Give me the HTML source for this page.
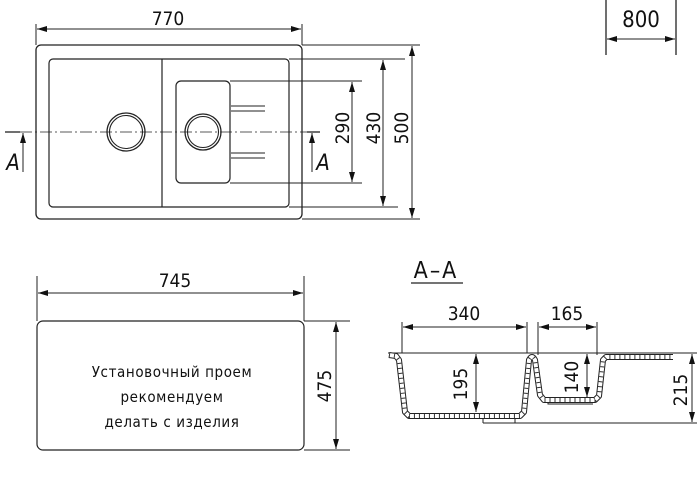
<!DOCTYPE html>
<html><head><meta charset="utf-8"><style>
html,body{margin:0;padding:0;background:#fff;}
svg{display:block;}
text{font-family:"DejaVu Sans Condensed","Liberation Sans Narrow","Liberation Sans",sans-serif;fill:#111;}
</style></head><body>
<svg width="699" height="477" viewBox="0 0 699 477" xmlns="http://www.w3.org/2000/svg">
<defs>
<marker id="ar" viewBox="0 0 10 6" refX="10" refY="3" markerWidth="10" markerHeight="6" orient="auto-start-reverse" markerUnits="userSpaceOnUse"><path d="M0,0 L10,3 L0,6 Z" fill="#111"/></marker>
</defs>
<g stroke="#222" stroke-width="1" fill="none">
<line x1="36" y1="24" x2="36" y2="45"/><line x1="302" y1="24" x2="302" y2="45"/>
<line x1="37" y1="29" x2="301" y2="29" marker-start="url(#ar)" marker-end="url(#ar)"/>
<rect x="36" y="45" width="266" height="174" rx="5" stroke-width="1.3"/>
<rect x="49" y="59" width="240" height="148" rx="4" stroke-width="1.2"/>
<line x1="162" y1="59" x2="162" y2="207" stroke-width="1.2"/>
<rect x="176" y="81" width="54" height="102" rx="5" stroke-width="1.2"/>
<circle cx="126" cy="132" r="19" stroke-width="1.3"/><circle cx="126" cy="132" r="16.5" stroke-width="1.1"/>
<circle cx="203" cy="132" r="18" stroke-width="1.3"/><circle cx="203" cy="132" r="15.5" stroke-width="1.1"/>
<line x1="231" y1="106" x2="265" y2="106"/><line x1="231" y1="111" x2="265" y2="111"/>
<line x1="231" y1="153" x2="265" y2="153"/><line x1="231" y1="158" x2="265" y2="158"/>
<line x1="20" y1="132" x2="318" y2="132" stroke-width="0.7" stroke-dasharray="12 3 2 3"/>
<line x1="5" y1="132" x2="20" y2="132" stroke-width="1.3"/>
<line x1="23" y1="172" x2="23" y2="133" marker-end="url(#ar)"/>
<line x1="307" y1="132" x2="320" y2="132" stroke-width="1.3"/>
<line x1="312" y1="172" x2="312" y2="133" marker-end="url(#ar)"/>
<line x1="230" y1="81" x2="362" y2="81"/><line x1="230" y1="183" x2="362" y2="183"/>
<line x1="352" y1="82" x2="352" y2="182" marker-start="url(#ar)" marker-end="url(#ar)"/>
<line x1="289" y1="59" x2="405" y2="59"/><line x1="289" y1="207" x2="398" y2="207"/>
<line x1="383" y1="60" x2="383" y2="206" marker-start="url(#ar)" marker-end="url(#ar)"/>
<line x1="302" y1="45" x2="420" y2="45"/><line x1="302" y1="219" x2="420" y2="219"/>
<line x1="412" y1="46" x2="412" y2="218" marker-start="url(#ar)" marker-end="url(#ar)"/>
<line x1="606" y1="0" x2="606" y2="55" stroke-width="1.3"/><line x1="676" y1="0" x2="676" y2="55" stroke-width="1.3"/>
<line x1="607" y1="39" x2="675" y2="39" marker-start="url(#ar)" marker-end="url(#ar)"/>
<line x1="37" y1="276" x2="37" y2="321"/><line x1="304" y1="276" x2="304" y2="321"/>
<line x1="38" y1="293" x2="303" y2="293" marker-start="url(#ar)" marker-end="url(#ar)"/>
<rect x="37" y="321" width="267" height="129" rx="6" stroke-width="1.2"/>
<line x1="304" y1="321" x2="350" y2="321"/><line x1="304" y1="450" x2="350" y2="450"/>
<line x1="336" y1="322" x2="336" y2="449" marker-start="url(#ar)" marker-end="url(#ar)"/>
<line x1="411" y1="283" x2="463" y2="283" stroke-width="1.3"/>
<line x1="402" y1="322" x2="402" y2="353"/><line x1="527" y1="322" x2="527" y2="353"/>
<line x1="403" y1="327" x2="526" y2="327" marker-start="url(#ar)" marker-end="url(#ar)"/>
<line x1="538" y1="322" x2="538" y2="355"/><line x1="597" y1="322" x2="597" y2="355"/>
<line x1="539" y1="327" x2="596" y2="327" marker-start="url(#ar)" marker-end="url(#ar)"/>
<line x1="388" y1="353" x2="697" y2="353"/>
<line x1="483" y1="423" x2="697" y2="423"/>
<line x1="692" y1="354" x2="692" y2="422" marker-start="url(#ar)" marker-end="url(#ar)"/>
<line x1="476" y1="354" x2="476" y2="412" marker-start="url(#ar)" marker-end="url(#ar)"/>
<line x1="587" y1="354" x2="587" y2="397" marker-start="url(#ar)" marker-end="url(#ar)"/>
<g stroke-linejoin="round">
<path id="p" d="M389,355 L396,356 L399,360 L405,412 L409,416 L520,416 L524,412 L529,360 Q532,354 535,360 L540,395 L544,400 L595,400 L599,396 L603,360 L606,357 L673,357" stroke="#222" stroke-width="6"/>
<path d="M389,355 L396,356 L399,360 L405,412 L409,416 L520,416 L524,412 L529,360 Q532,354 535,360 L540,395 L544,400 L595,400 L599,396 L603,360 L606,357 L673,357" stroke="#fff" stroke-width="4"/>
<path d="M389,355 L396,356 L399,360 L405,412 L409,416 L520,416 L524,412 L529,360 Q532,354 535,360 L540,395 L544,400 L595,400 L599,396 L603,360 L606,357 L673,357" stroke="#333" stroke-width="4" stroke-dasharray="1 4"/>
</g>
<path d="M483,419 L483,423 M515,419 L515,423 M548,403 L548,404 L593,404" stroke-width="1"/>
</g>
<g font-size="19" text-anchor="middle">
<text x="168" y="25">770</text>
<text x="641" y="27" font-size="22">800</text>
<text x="175" y="287">745</text>
<text x="13" y="170" font-size="22" font-style="italic">A</text>
<text x="323" y="170" font-size="22" font-style="italic">A</text>
<text transform="translate(349,128) rotate(-90)">290</text>
<text transform="translate(380,128) rotate(-90)">430</text>
<text transform="translate(408,128) rotate(-90)">500</text>
<text transform="translate(331,386) rotate(-90)">475</text>
<text transform="translate(467,384) rotate(-90)">195</text>
<text transform="translate(578,377) rotate(-90)">140</text>
<text transform="translate(687,390) rotate(-90)">215</text>
<text x="464" y="320">340</text>
<text x="567" y="320">165</text>
<text x="436" y="278" font-size="23" letter-spacing="2">A–A</text>
</g>
<g font-size="15" text-anchor="middle" letter-spacing="0.6">
<text x="172" y="377">Установочный проем</text>
<text x="172" y="402">рекомендуем</text>
<text x="172" y="427">делать с изделия</text>
</g>
</svg>
</body></html>
